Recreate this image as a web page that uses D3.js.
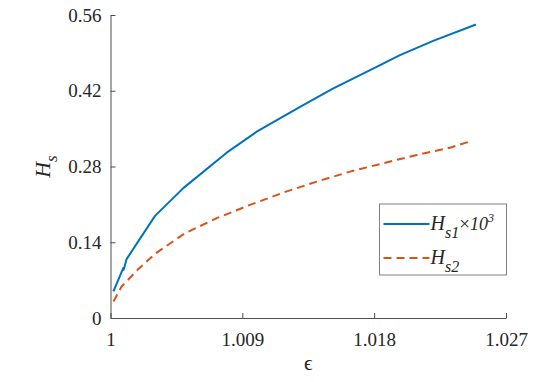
<!DOCTYPE html>
<html>
<head>
<meta charset="utf-8">
<script src="https://cdn.jsdelivr.net/npm/d3@7"></script>
<style>
  body { margin: 0; background: #fff; }
  .axis path, .axis line { stroke: #4d4d4d; }
</style>
</head>
<body>
<div id="chart"></div>
<script>
// epsilon values and H_s curves
const eps1 = [1.0002, 1.00087, 1.0009, 1.0011, 1.00304, 1.00497, 1.00793, 1.00998, 1.01294, 1.01521, 1.01817, 1.01976, 1.02203, 1.02495];
const hs1 = [0.049, 0.0923, 0.089, 0.1089, 0.1888, 0.240, 0.3056, 0.3443, 0.3904, 0.4244, 0.4642, 0.4858, 0.5122, 0.5424];

const eps2 = [1.0002, 1.00076, 1.0019, 1.00304, 1.00509, 1.00725, 1.00952, 1.0118, 1.01407, 1.01635, 1.01862, 1.0209, 1.02317, 1.02449];
const hs2 = [0.0306, 0.0583, 0.0904, 0.1186, 0.1568, 0.1845, 0.209, 0.2318, 0.252, 0.2705, 0.286, 0.3013, 0.3148, 0.3258];

const xTicks = [1, 1.009, 1.018, 1.027];
const yTicks = [0, 0.14, 0.28, 0.42, 0.56];

const font = 'Liberation Serif';
const textColor = '#262626';

const width = 553, height = 382;
const margin = {top: 15, right: 47, bottom: 64, left: 110.5};
const innerW = width - margin.left - margin.right;
const innerH = height - margin.top - margin.bottom;

const svg = d3.select('#chart').append('svg')
  .attr('width', width)
  .attr('height', height);

const g = svg.append('g')
  .attr('transform', `translate(${margin.left}, ${margin.top})`);

const x = d3.scaleLinear().domain([1, 1.027]).range([0, innerW]);
const y = d3.scaleLinear().domain([0, 0.56]).range([innerH, 0]);

// axes, ticks pointing inward
const xAxis = g.append('g')
  .attr('class', 'axis')
  .attr('transform', `translate(0, ${innerH})`)
  .call(d3.axisBottom(x).tickValues(xTicks).tickFormat(d => d3.format('')(d)).tickSizeInner(-5).tickSizeOuter(0).tickPadding(15));
xAxis.attr('font-family', font);
xAxis.selectAll('text')
  .attr('fill', textColor)
  .attr('font-family', font)
  .style('font-size', '19px');

const yAxis = g.append('g')
  .attr('class', 'axis')
  .call(d3.axisLeft(y).tickValues(yTicks).tickFormat(d => d3.format('')(d)).tickSizeInner(-5).tickSizeOuter(0).tickPadding(9));
yAxis.attr('font-family', font);
yAxis.selectAll('text')
  .attr('fill', textColor)
  .attr('font-family', font)
  .style('font-size', '19px');

// curves
const line = d3.line()
  .x(d => x(d[0]))
  .y(d => y(d[1]));

g.append('path')
  .datum(d3.zip(eps1, hs1))
  .attr('fill', 'none')
  .attr('stroke', '#0072BD')
  .attr('stroke-width', 2)
  .attr('stroke-linejoin', 'round')
  .attr('d', line);

g.append('path')
  .datum(d3.zip(eps2, hs2))
  .attr('fill', 'none')
  .attr('stroke', '#D95319')
  .attr('stroke-width', 2)
  .attr('stroke-dasharray', '8,5')
  .attr('d', line);

// axis labels
svg.append('text')
  .attr('x', margin.left + x(1.0135))
  .attr('y', 370)
  .attr('text-anchor', 'middle')
  .attr('fill', textColor)
  .attr('font-family', font)
  .style('font-size', '21px')
  .text('\u03F5');

const yl = svg.append('text')
  .attr('transform', `translate(50, ${margin.top + innerH / 2}) rotate(-90)`)
  .attr('text-anchor', 'middle')
  .attr('fill', textColor)
  .attr('font-family', font)
  .style('font-size', '22px')
  .style('font-style', 'italic');
yl.append('tspan').text('H');
yl.append('tspan').attr('dy', 7).style('font-size', '17px').text('s');

// legend
const legend = svg.append('g').attr('transform', 'translate(379.5, 204)');
legend.append('rect')
  .attr('width', 127)
  .attr('height', 71)
  .attr('fill', '#fff')
  .attr('stroke', '#808080')
  .attr('stroke-width', 1);

const items = [
  {color: '#0072BD', dash: null, sub: 's1', extra: true},
  {color: '#D95319', dash: '8,5', sub: 's2', extra: false}
];
items.forEach((it, i) => {
  const ly = 20 + i * 34;
  legend.append('line')
    .attr('x1', 4).attr('x2', 50)
    .attr('y1', ly).attr('y2', ly)
    .attr('stroke', it.color)
    .attr('stroke-width', 2)
    .attr('stroke-dasharray', it.dash);
  const t = legend.append('text')
    .attr('x', 51)
    .attr('y', ly + 6)
    .attr('fill', textColor)
    .attr('font-family', font)
    .style('font-size', '20px')
    .style('font-style', 'italic');
  t.append('tspan').text('H');
  t.append('tspan').attr('dy', 8).style('font-size', '16px').text(it.sub);
  if (it.extra) {
    t.append('tspan').attr('dy', -8).style('font-style', 'normal').style('font-size', '19px').text('\u00D7');
    t.append('tspan').style('font-size', '18px').text('10');
    t.append('tspan').attr('dy', -8).style('font-size', '12px').text('3');
  }
});
</script>
</body>
</html>
